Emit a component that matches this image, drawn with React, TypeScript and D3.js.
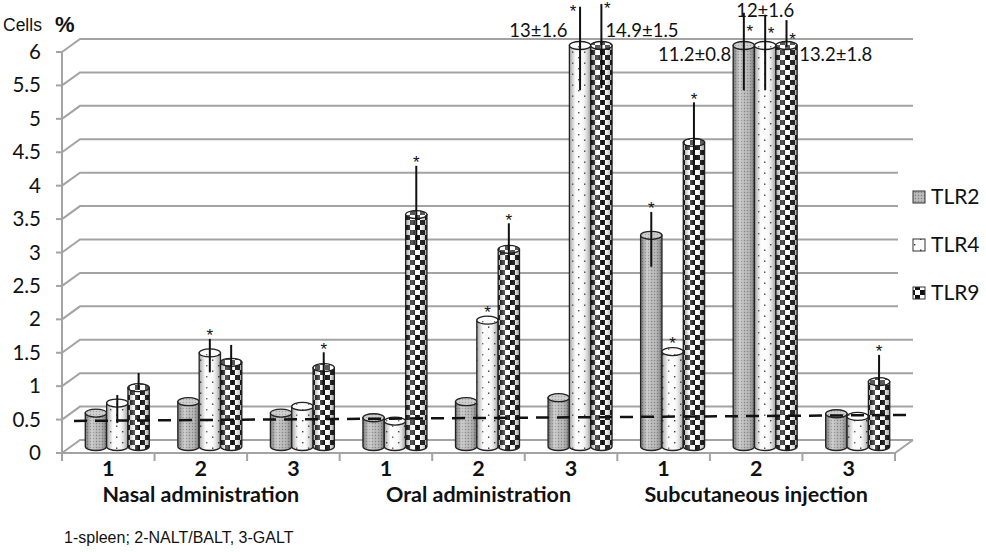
import * as d3 from 'd3';

const groups = ['Nasal administration', 'Oral administration', 'Subcutaneous injection'];
const organs = ['1', '2', '3'];
const series = ['TLR2', 'TLR4', 'TLR9'];
const yTicks = [0, 0.5, 1, 1.5, 2, 2.5, 3, 3.5, 4, 4.5, 5, 5.5, 6];

// one value per category: nasal 1-3, oral 1-3, subcutaneous 1-3
const tlr2 = [0.5, 0.67, 0.5, 0.43, 0.67, 0.73, 3.16, 6, 0.49];
const tlr4 = [0.65, 1.4, 0.6, 0.38, 1.89, 6, 1.42, 6, 0.45];
const tlr9 = [0.88, 1.26, 1.18, 3.47, 2.95, 6, 4.55, 6, 0.97];

const tlr2Hi = [null, null, null, null, null, null, 3.51, 6.49, null];
const tlr2Lo = [null, null, null, null, null, null, 2.69, 5.33, null];
const tlr4Hi = [0.77, 1.61, null, null, null, 6.58, null, 6.46, null];
const tlr4Lo = [0.35, 1.11, null, null, null, 5.33, null, 5.33, null];
const tlr9Hi = [1.1, 1.52, 1.41, 4.2, 3.34, 6.62, 5.15, 6.38, 1.37];
const tlr9Lo = [0.85, 1.14, 0.77, 2.94, 2.71, 5.36, 4.06, 5.98, 0.92];

const tlr2Star = [false, false, false, false, false, false, true, true, false];
const tlr4Star = [false, true, false, false, true, true, true, true, false];
const tlr9Star = [false, false, true, true, true, true, true, true, true];

// real means of the bars cut at 6 %
const overflowLabels = [
  { cat: 5, s: 'TLR4', text: '13±1.6', place: 'left', row: 1 },
  { cat: 5, s: 'TLR9', text: '14.9±1.5', place: 'right', row: 1 },
  { cat: 7, s: 'TLR2', text: '11.2±0.8', place: 'left', row: 2 },
  { cat: 7, s: 'TLR4', text: '12±1.6', place: 'top', row: 0 },
  { cat: 7, s: 'TLR9', text: '13.2±1.8', place: 'right', row: 2 },
];

const baseline = 0.48;

const W = 986;
const H = 552;
const left = 62;
const right = 895;
const depthX = 18;
const depthY = -13;
const calibri = 'Lato, "Open Sans", sans-serif';
const arial = '"Liberation Sans", Arial, sans-serif';
const gridColor = '#a3a3a3';

const values: Record<string, number[]> = { TLR2: tlr2, TLR4: tlr4, TLR9: tlr9 };
const errHi: Record<string, (number | null)[]> = { TLR2: tlr2Hi, TLR4: tlr4Hi, TLR9: tlr9Hi };
const errLo: Record<string, (number | null)[]> = { TLR2: tlr2Lo, TLR4: tlr4Lo, TLR9: tlr9Lo };
const stars: Record<string, boolean[]> = { TLR2: tlr2Star, TLR4: tlr4Star, TLR9: tlr9Star };
// star that sits to the left of its line
const starLeft = new Set(['5-TLR4']);

const categories = d3.range(groups.length * organs.length);

const x0 = d3.scaleBand<number>().domain(categories).range([left, right]);
const groupWidth = 64;
const x1 = d3.scaleBand<string>().domain(series).range([0, groupWidth]);
const yFront = d3.scaleLinear().domain([0, 6]).range([453, 52]);
// bars stand half way into the floor
const yBar = (v: number) => yFront(v) + depthY / 2;
const barX = (c: number, s: string) =>
  (x0(c) as number) + (x0.bandwidth() - groupWidth) / 2 + depthX / 2 + (x1(s) as number);

const fillOf = (s: string) => `url(#pat-${s})`;

const cylinder = (x: number, w: number, yTop: number, yBot: number, ry: number) => {
  const rx = w / 2;
  return `M${x},${yTop} L${x},${yBot} A${rx},${ry} 0 0 0 ${x + w},${yBot} L${x + w},${yTop} Z`;
};

const trimmed = new Map<number, number>([
  [2, 898], [2.5, 898], [3, 898], [3.5, 898], [4, 898], [5.5, 797],
]);

export default function App() {
  const bw = x1.bandwidth();
  const ry = 4;
  const legendY = d3.scalePoint<string>().domain(series).range([197, 293]);
  const dashY = d3.scaleLinear().domain([74, 912]).range([yFront(baseline), yFront(baseline) - 6]);

  return (
    <svg width={W} height={H} style={{ position: 'absolute', left: 0, top: 0, background: '#fff' }}>
      <defs>
        <pattern id="pat-TLR2" width={3} height={3} patternUnits="userSpaceOnUse">
          <rect width={3} height={3} fill="#b3b3b3" />
          <rect x={0} y={0} width={1} height={1} fill="#808080" />
          <rect x={1.5} y={1.5} width={1} height={1} fill="#d4d4d4" />
        </pattern>
        <pattern id="pat-TLR4" width={12} height={11} patternUnits="userSpaceOnUse">
          <rect width={12} height={11} fill="#fbfbfb" />
          <rect x={2} y={2} width={1.4} height={1.4} fill="#333" />
          <rect x={8} y={7.5} width={1.4} height={1.4} fill="#333" />
        </pattern>
        <pattern id="pat-TLR9" width={10} height={10} patternUnits="userSpaceOnUse">
          <rect width={10} height={10} fill="#fff" />
          <rect x={0} y={0} width={5} height={5} fill="#111" />
          <rect x={5} y={5} width={5} height={5} fill="#111" />
        </pattern>
        <linearGradient id="shade" x1="0" x2="1" y1="0" y2="0">
          <stop offset="0" stopColor="#000" stopOpacity={0.35} />
          <stop offset="0.3" stopColor="#fff" stopOpacity={0.3} />
          <stop offset="0.55" stopColor="#fff" stopOpacity={0} />
          <stop offset="1" stopColor="#000" stopOpacity={0.4} />
        </linearGradient>
      </defs>

      {/* left wall and back wall grid */}
      {yTicks.map((t) => {
        const yf = yFront(t);
        const end = trimmed.get(t) ?? right + depthX;
        return (
          <g key={t}>
            <path
              d={`M${left},${yf} L${left + depthX},${yf + depthY} L${end},${yf + depthY}`}
              fill="none"
              stroke={gridColor}
              strokeWidth={2}
            />
            <line x1={left - 6} x2={left} y1={yf} y2={yf} stroke={gridColor} strokeWidth={2} />
            <text
              x={41}
              y={yf + 7}
              textAnchor="end"
              fontFamily={calibri}
              fontSize={20.5}
              fill="#111"
            >
              {t}
            </text>
          </g>
        );
      })}
      <line x1={left} x2={left} y1={yFront(6)} y2={yFront(0)} stroke={gridColor} strokeWidth={2} />

      {/* floor */}
      <path
        d={`M${left},${yFront(0)} L${right},${yFront(0)} L${right + depthX},${yFront(0) + depthY}`}
        fill="none"
        stroke={gridColor}
        strokeWidth={2}
      />
      {[...categories, categories.length].map((c) => {
        const x = c < categories.length ? (x0(c) as number) : right;
        return (
          <line key={c} x1={x} x2={x} y1={yFront(0)} y2={yFront(0) + 8} stroke={gridColor} strokeWidth={2} />
        );
      })}

      {/* cylinders */}
      {categories.map((c) =>
        series.map((s) => {
          const v = values[s][c];
          const x = barX(c, s);
          const yTop = yBar(v);
          const yBot = yBar(0);
          const d = cylinder(x, bw, yTop, yBot, ry);
          return (
            <g key={`${c}-${s}`}>
              <path d={d} fill={fillOf(s)} />
              <path d={d} fill="url(#shade)" stroke="#222" strokeWidth={1.3} />
              <ellipse cx={x + bw / 2} cy={yTop} rx={bw / 2} ry={ry} fill={fillOf(s)} />
              <ellipse
                cx={x + bw / 2}
                cy={yTop}
                rx={bw / 2}
                ry={ry}
                fill="#fff"
                fillOpacity={0.3}
                stroke="#222"
                strokeWidth={1.3}
              />
            </g>
          );
        }),
      )}

      {/* error lines and significance marks */}
      {categories.map((c) =>
        series.map((s) => {
          const cx = barX(c, s) + bw / 2;
          const hi = errHi[s][c];
          const lo = errLo[s][c];
          const star = stars[s][c];
          const lineTop = hi != null ? yBar(hi) : null;
          // star centre position
          let sx = cx;
          let sy = yBar(values[s][c]) - 12;
          if (lineTop != null) {
            if (lineTop < 40) {
              sx = starLeft.has(`${c}-${s}`) ? cx - 7 : cx + 6;
              sy = lineTop < 10 ? lineTop + 1 : lineTop + 15;
            } else {
              sy = lineTop - 7;
            }
          }
          return (
            <g key={`e-${c}-${s}`}>
              {hi != null && lo != null && (
                <line x1={cx} x2={cx} y1={yBar(hi)} y2={yBar(lo)} stroke="#111" strokeWidth={2} />
              )}
              {star && (
                <text
                  x={sx}
                  y={sy + 9.4}
                  textAnchor="middle"
                  fontFamily={arial}
                  fontSize={17}
                  fill="#111"
                >
                  *
                </text>
              )}
            </g>
          );
        }),
      )}

      {/* values of the cut bars */}
      {overflowLabels.map((l) => {
        const x = barX(l.cat, l.s);
        const rowY = [17, 36.5, 61][l.row];
        const tx = l.place === 'left' ? x - 2 : l.place === 'right' ? x + bw + 2 : x + bw / 2;
        const anchor = l.place === 'left' ? 'end' : l.place === 'right' ? 'start' : 'middle';
        const ax = l.place === 'right' && l.row === 1 ? x + bw / 2 + 4 : tx;
        return (
          <text
            key={l.text}
            x={ax}
            y={rowY}
            textAnchor={anchor}
            fontFamily={calibri}
            fontSize={18.5}
            fill="#111"
          >
            {l.text}
          </text>
        );
      })}

      {/* control level */}
      <line
        x1={74}
        x2={912}
        y1={dashY(74)}
        y2={dashY(912)}
        stroke="#111"
        strokeWidth={2.5}
        strokeDasharray="13 8"
      />

      {/* category labels */}
      {categories.map((c) => (
        <text
          key={`l-${c}`}
          x={(x0(c) as number) + x0.bandwidth() / 2}
          y={476}
          textAnchor="middle"
          fontFamily={calibri}
          fontWeight="bold"
          fontSize={21.5}
          fill="#111"
        >
          {organs[c % organs.length]}
        </text>
      ))}
      {groups.map((g, i) => (
        <text
          key={g}
          x={(x0(i * 3 + 1) as number) + x0.bandwidth() / 2}
          y={502}
          textAnchor="middle"
          fontFamily={calibri}
          fontWeight="bold"
          fontSize={21.5}
          fill="#111"
        >
          {g}
        </text>
      ))}

      {/* axis title */}
      <text x={3} y={31} fontFamily={arial} fontSize={17.5} fill="#111">
        Cells
      </text>
      <text x={55} y={32} fontFamily={arial} fontSize={22} fontWeight="bold" fill="#111">
        %
      </text>

      {/* legend */}
      {series.map((s) => {
        const cy = legendY(s) as number;
        return (
          <g key={`lg-${s}`}>
            <rect x={913} y={cy - 6} width={12} height={12} fill={fillOf(s)} stroke="#333" strokeWidth={1} />
            <text x={931} y={cy + 7} fontFamily={calibri} fontSize={21} fill="#111">
              {s}
            </text>
          </g>
        );
      })}

      <text x={64} y={543} fontFamily={arial} fontSize={16} fill="#111">
        1-spleen; 2-NALT/BALT, 3-GALT
      </text>
    </svg>
  );
}
